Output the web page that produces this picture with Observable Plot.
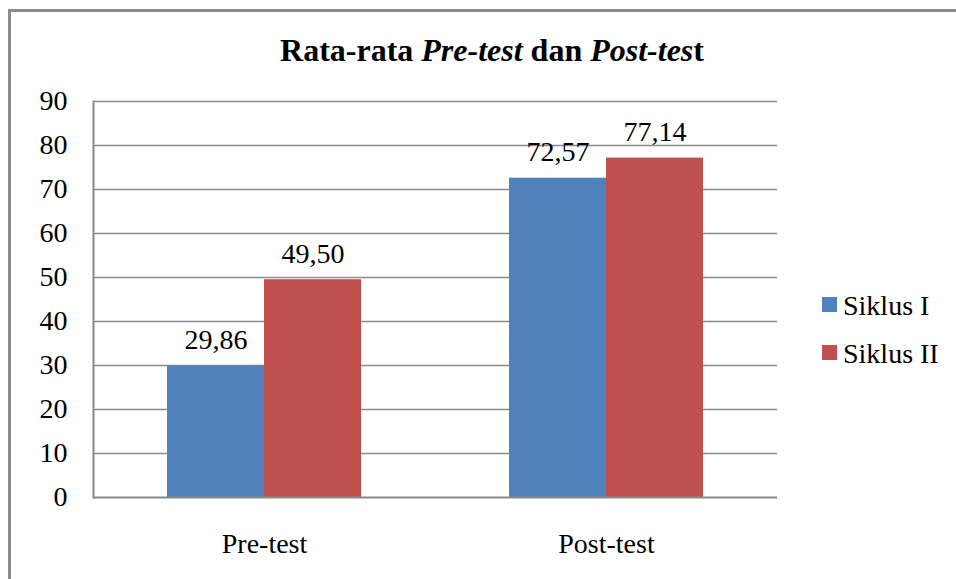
<!DOCTYPE html>
<html>
<head>
<meta charset="utf-8">
<script src="https://cdn.jsdelivr.net/npm/d3@7"></script>
<script src="https://cdn.jsdelivr.net/npm/@observablehq/plot@0.6"></script>
<style>
  html, body { margin: 0; padding: 0; background: #fff; overflow: hidden; }
  #wrap { position: relative; width: 956px; height: 579px; overflow: hidden; font-family: "Liberation Serif", "Times New Roman", serif; color: #000; }
  #border { position: absolute; left: 8px; top: 9px; width: 1000px; height: 620px; border-left: 3px solid #8a8a8a; border-top: 3px solid #8a8a8a; box-sizing: border-box; }
  #title { position: absolute; left: 0; width: 984px; top: 34px; text-align: center; font-size: 32px; line-height: 32px; font-weight: bold; white-space: nowrap; }
  #chart { position: absolute; left: 0; top: 0; }
  .leg { position: absolute; left: 822px; font-size: 28px; line-height: 28px; white-space: nowrap; }
  .sw { position: absolute; width: 15px; height: 15px; }
  .lt { position: absolute; left: 21px; }
</style>
</head>
<body>
<div id="wrap">
  <div id="border"></div>
  <div id="chart"></div>
  <div id="title">Rata-rata <i>Pre-test</i> dan <i>Post-tes</i>t</div>
  <div id="legend"></div>
</div>
<script>
const categories = ["Pre-test", "Post-test"];
const series = ["Siklus I", "Siklus II"];
const siklus1 = [29.86, 72.57];
const siklus2 = [49.50, 77.14];
const yTicks = [0, 10, 20, 30, 40, 50, 60, 70, 80, 90];
const colors = ["#4F81BD", "#C0504D"];

const values = [siklus1, siklus2];
const data = [];
series.forEach((s, j) => categories.forEach((c, i) => data.push({category: c, series: s, value: values[j][i]})));
const fmt = v => d3.format(".2f")(v).replace(".", ",");

const chart = Plot.plot({
  width: 956,
  height: 579,
  marginTop: 101,
  marginBottom: 82,
  marginLeft: 93,
  marginRight: 179,
  style: {fontFamily: "'Liberation Serif', 'Times New Roman', serif", color: "#000", background: "transparent"},
  fx: {domain: categories, padding: 0, label: null, axis: null},
  x: {domain: series, paddingInner: 0, paddingOuter: 0.754, axis: null},
  y: {domain: [0, 90], axis: null},
  color: {domain: series, range: colors},
  marks: [
    Plot.ruleY(yTicks.filter(d => d > 0), {stroke: "#8a8a8a", strokeWidth: 1.5}),
    Plot.barY(data, {fx: "category", x: "series", y: "value", fill: "series"}),
    Plot.ruleY([0], {stroke: "#8a8a8a", strokeWidth: 2}),
    Plot.frame({anchor: "left", fx: ["Pre-test"], stroke: "#8a8a8a", strokeWidth: 2}),
    Plot.text(data, {fx: "category", x: "series", y: "value", text: d => fmt(d.value), lineAnchor: "bottom", dy: -17, fontSize: 28, fill: "#000"}),
    Plot.axisY({ticks: yTicks, tickSize: 0, tickPadding: 26, fontSize: 28, label: null, tickFormat: d => String(d), fill: "#000"}),
    Plot.axisFx({anchor: "bottom", tickSize: 0, tickPadding: 36, fontSize: 28, label: null, fill: "#000"})
  ]
});
document.getElementById("chart").appendChild(chart);

const legend = document.getElementById("legend");
const legTops = [291.6, 339.6];
series.forEach((s, j) => {
  const row = document.createElement("div");
  row.className = "leg";
  row.style.top = legTops[j] + "px";
  const sw = document.createElement("div");
  sw.className = "sw";
  sw.style.background = colors[j];
  sw.style.left = "0px";
  sw.style.top = "5.4px";
  const lt = document.createElement("span");
  lt.className = "lt";
  lt.textContent = s;
  row.appendChild(sw);
  row.appendChild(lt);
  legend.appendChild(row);
});
</script>
</body>
</html>
